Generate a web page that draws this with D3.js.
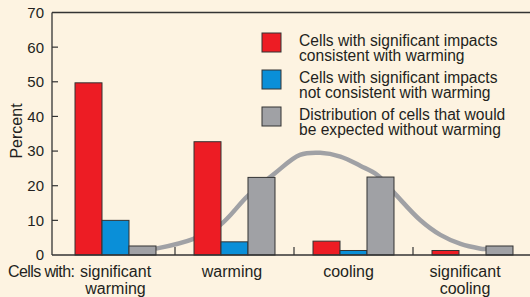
<!DOCTYPE html>
<html lang="en">
<head>
<meta charset="UTF-8" />
<title>Cells with significant impacts</title>
<script src="https://d3js.org/d3.v7.min.js"></script>
<style>
  html, body { margin: 0; padding: 0; background: #fdf3e1; }
  svg { display: block; font-family: "Liberation Sans", Arial, Helvetica, sans-serif; }
  text { fill: #231f20; }
</style>
</head>
<body>
<div id="chart"></div>
<script>
// Data
const categories = ["significant warming", "warming", "cooling", "significant cooling"];
const categoryLines = [["significant", "warming"], ["warming"], ["cooling"], ["significant", "cooling"]];
const seriesKeys = ["consistent", "notConsistent", "expected"];
const seriesNames = [
  ["Cells with significant impacts", "consistent with warming"],
  ["Cells with significant impacts", "not consistent with warming"],
  ["Distribution of cells that would", "be expected without warming"]
];
const seriesColors = ["#ed1c24", "#0a8fd8", "#a0a1a5"];
const consistent = [49.7, 32.7, 4.0, 1.3];
const notConsistent = [10.0, 3.8, 1.3, 0];
const expected = [2.6, 22.4, 22.5, 2.6];
const yTicks = [0, 10, 20, 30, 40, 50, 60, 70];
// smooth curve: position in category units (0 = left edge of first group) and percent
const curvePos = [0.85, 1.15, 1.38, 1.61, 1.84, 2.05, 2.22, 2.39, 2.56, 2.70, 2.84, 3.06, 3.23, 3.40, 3.56, 3.61];
const curveVal = [1.9, 4.6, 8.7, 17.0, 23.6, 28.9, 29.5, 28.4, 25.7, 23.1, 18.0, 10.1, 5.8, 3.2, 1.9, 1.7];

const width = 530, height = 297;
const axisX = 52, plotLeft = 56, plotRight = 532;
const plotTop = 12.5, plotBottom = 255;

const svg = d3.select("#chart").append("svg")
  .attr("width", width)
  .attr("height", height);

const y = d3.scaleLinear().domain([0, 70]).range([plotBottom, plotTop]);
const x0 = d3.scaleBand().domain(categories).range([plotLeft, plotRight]).padding(0);
const x1 = d3.scaleBand().domain(seriesKeys).range([0, x0.bandwidth()])
  .paddingInner(0).paddingOuter(0.704);
const xc = d3.scaleLinear().domain([0, 4]).range([plotLeft, plotRight]);

const values = { consistent, notConsistent, expected };

// Curve behind the bars
const line = d3.line()
  .x((d, i) => xc(curvePos[i]))
  .y(d => y(d))
  .curve(d3.curveCatmullRom);
svg.append("path")
  .datum(curveVal)
  .attr("d", line)
  .attr("fill", "none")
  .attr("stroke", "#a0a1a5")
  .attr("stroke-width", 4.5)
  .attr("stroke-linecap", "round");

// Bars
const groups = svg.selectAll("g.group")
  .data(categories)
  .join("g")
  .attr("class", "group")
  .attr("transform", d => `translate(${x0(d)},0)`);

groups.selectAll("rect")
  .data((d, i) => seriesKeys.map((k, j) => ({ key: k, value: values[k][i], color: seriesColors[j] })))
  .join("rect")
  .filter(d => d.value > 0)
  .attr("x", d => x1(d.key))
  .attr("y", d => y(d.value))
  .attr("width", x1.bandwidth())
  .attr("height", d => plotBottom - y(d.value))
  .attr("fill", d => d.color)
  .attr("stroke", "#333")
  .attr("stroke-width", 1);

// Frame: left axis, top line, bottom axis
svg.append("line")
  .attr("x1", axisX).attr("x2", axisX)
  .attr("y1", plotTop).attr("y2", plotBottom)
  .attr("stroke", "#333").attr("stroke-width", 1.3);
svg.append("line")
  .attr("x1", axisX).attr("x2", width)
  .attr("y1", plotTop).attr("y2", plotTop)
  .attr("stroke", "#333").attr("stroke-width", 1.3);
svg.append("line")
  .attr("x1", axisX).attr("x2", width)
  .attr("y1", plotBottom).attr("y2", plotBottom)
  .attr("stroke", "#333").attr("stroke-width", 1.3);

// Y axis ticks (inward) and labels
const yAxis = svg.append("g");
yAxis.selectAll("line")
  .data(yTicks.slice(1, -1))
  .join("line")
  .attr("x1", axisX).attr("x2", axisX + 6)
  .attr("y1", d => y(d)).attr("y2", d => y(d))
  .attr("stroke", "#333").attr("stroke-width", 1.2);
yAxis.selectAll("text")
  .data(yTicks)
  .join("text")
  .attr("x", 44)
  .attr("y", d => y(d))
  .attr("dy", "0.36em")
  .attr("text-anchor", "end")
  .style("font-size", "15px")
  .text(d => d);

svg.append("text")
  .attr("transform", `translate(21.5,131) rotate(-90)`)
  .attr("text-anchor", "middle")
  .style("font-size", "16px")
  .text("Percent");

// X ticks between groups
svg.selectAll("line.xtick")
  .data(categories.slice(1))
  .join("line")
  .attr("class", "xtick")
  .attr("x1", d => x0(d)).attr("x2", d => x0(d))
  .attr("y1", plotBottom).attr("y2", plotBottom - 8)
  .attr("stroke", "#333").attr("stroke-width", 1.2);

// Category labels
const catLabels = svg.selectAll("text.cat")
  .data(categories)
  .join("text")
  .attr("class", "cat")
  .attr("text-anchor", "middle")
  .style("font-size", "16px")
  .attr("transform", (d, i) => `translate(${x0(d) + x0.bandwidth() / 2 - i * 2.5},277)`);
catLabels.selectAll("tspan")
  .data((d, i) => categoryLines[i])
  .join("tspan")
  .attr("x", 0)
  .attr("y", (d, i) => i * 16.5)
  .text(d => d);

svg.append("text")
  .attr("x", 8)
  .attr("y", 277)
  .style("font-size", "16px")
  .style("letter-spacing", "-0.6px")
  .text("Cells with:");

// Legend: each label line is its own text element
const legend = svg.selectAll("g.legend")
  .data(seriesKeys)
  .join("g")
  .attr("class", "legend")
  .attr("transform", (d, i) => `translate(262,${33 + i * 37})`);
legend.append("rect")
  .attr("width", 19).attr("height", 19)
  .attr("fill", (d, i) => seriesColors[i])
  .attr("stroke", "#333").attr("stroke-width", 1);
legend.selectAll("text")
  .data((d, i) => seriesNames[i])
  .join("text")
  .attr("x", 37)
  .attr("y", (d, i) => 12.5 + i * 15)
  .style("font-size", "15.6px")
  .text(d => d);
</script>
</body>
</html>
